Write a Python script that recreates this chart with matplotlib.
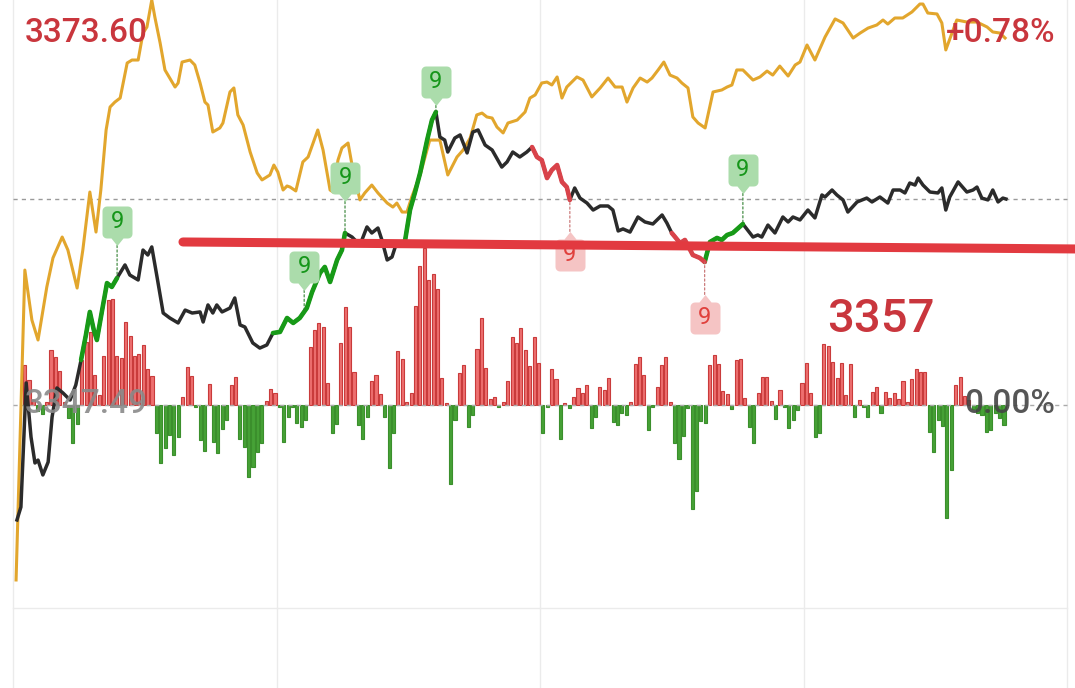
import numpy as np
import matplotlib
matplotlib.use("Agg")
import matplotlib.pyplot as plt
from matplotlib.path import Path
from matplotlib.transforms import offset_copy

plt.rcParams['font.family'] = ['Roboto', 'DejaVu Sans']

# ---------------- data ----------------
prev_close = 3347.49
top_price = 3373.60
pct_label = "+0.78%"
zero_label = "0.00%"
note_label = "3357"

# black line (index) : minute, price
black_t = [0.9, 1.8, 3.0, 4.1, 5.0, 5.7, 6.8, 8.0, 8.9, 10.0, 11.4, 13.0, 14.3, 15.5, 16.6, 17.5, 18.4, 19.1, 20.3, 21.4,
           22.5, 23.7, 25.5, 26.6, 28.5, 29.6, 30.7, 31.6, 32.8, 34.2, 35.7, 37.6, 39.2, 40.8, 42.6, 43.3, 44.4, 45.5, 46.4, 47.6,
           49.4, 50.5, 51.7, 52.8, 54.6, 56.2, 57.8, 59.2, 60.8, 62.4, 63.8, 65.3, 66.9, 68.1, 69.9, 71.0, 72.2, 73.8, 74.9, 75.6,
           77.2, 79.0, 80.6, 81.7, 83.1, 84.0, 85.2, 86.3, 87.4, 88.8, 89.3, 90.4, 91.5, 92.7, 94.3, 95.4, 96.3, 97.2, 98.3, 99.0,
           100.6, 101.8, 103.4, 104.7, 105.9, 107.5, 109.1, 111.3, 112.5, 113.8, 115.4, 117.0, 118.2, 119.3, 120.4, 121.6, 122.7, 123.9, 125.0, 126.1,
           126.8, 127.9, 129.1, 130.7, 132.1, 133.7, 135.5, 136.6, 137.8, 138.9, 140.5, 142.3, 143.9, 145.7, 147.8, 148.9, 150.0, 151.9, 153.0, 154.8,
           156.4, 157.5, 158.7, 160.3, 161.4, 162.6, 163.9, 166.2, 168.5, 169.6, 170.5, 171.9, 173.5, 175.3, 176.5, 177.6, 179.2, 181.0, 182.6, 184.2,
           184.9, 186.5, 187.6, 189.0, 190.1, 192.2, 194.4, 195.6, 197.4, 199.2, 200.4, 202.0, 203.1, 204.2, 205.4, 206.1, 207.2, 208.8, 210.6, 211.5,
           212.4, 213.3, 215.2, 217.2, 218.6, 219.5, 220.6, 222.0, 223.1, 224.3, 225.4, 226.1]
black_p = [3340.08, 3340.91, 3348.91, 3345.43, 3343.75, 3343.94, 3342.98, 3343.81, 3346.72, 3348.59, 3348.26, 3347.81, 3348.78, 3350.39, 3352.00, 3353.49, 3352.32, 3351.68, 3353.61, 3355.35,
           3355.10, 3355.68, 3356.52, 3355.87, 3355.55, 3357.48, 3357.16, 3357.68, 3355.74, 3353.42, 3353.10, 3352.78, 3353.61, 3353.42, 3353.49, 3352.84, 3353.94, 3353.42, 3353.94, 3353.49,
           3353.74, 3354.39, 3352.65, 3352.52, 3351.49, 3351.16, 3351.36, 3352.13, 3352.20, 3353.10, 3352.78, 3353.10, 3353.74, 3354.77, 3356.00, 3356.39, 3355.42, 3356.84, 3357.48, 3358.58,
           3358.32, 3357.80, 3358.97, 3358.58, 3358.90, 3358.13, 3356.84, 3357.03, 3358.00, 3358.00, 3358.13, 3360.06, 3361.16, 3362.45, 3364.57, 3365.86, 3366.38, 3364.77, 3364.57, 3363.80,
           3364.70, 3364.90, 3363.74, 3365.09, 3365.22, 3364.25, 3363.93, 3362.83, 3363.16, 3363.80, 3363.48, 3363.80, 3364.12, 3363.48, 3363.28, 3362.12, 3362.64, 3362.96, 3361.87, 3361.54,
           3360.71, 3361.48, 3360.83, 3360.51, 3360.06, 3360.32, 3360.32, 3360.06, 3358.71, 3358.84, 3358.64, 3359.61, 3359.29, 3359.16, 3359.74, 3359.22, 3358.58, 3357.93, 3358.13, 3357.16,
           3356.97, 3356.71, 3358.00, 3358.26, 3358.13, 3358.45, 3358.58, 3359.16, 3358.32, 3358.45, 3358.32, 3359.09, 3358.58, 3359.61, 3359.29, 3359.61, 3359.42, 3360.06, 3359.55, 3361.03,
           3360.90, 3361.35, 3361.03, 3360.71, 3359.93, 3360.58, 3360.83, 3360.58, 3360.90, 3360.51, 3361.35, 3361.35, 3361.16, 3361.80, 3361.67, 3362.12, 3361.67, 3361.22, 3361.16, 3361.48,
           3360.06, 3360.90, 3361.87, 3361.22, 3361.35, 3361.54, 3360.83, 3360.71, 3361.35, 3360.58, 3360.83, 3360.77]

# yellow line : minute, price-equivalent
yellow_t = [0.7, 2.7, 4.3, 5.7, 7.7, 9.1, 11.2, 12.5, 14.6, 15.9, 17.5, 18.9, 20.0, 21.2, 22.1, 23.2, 24.4, 26.0, 27.1, 28.5,
            29.6, 30.5, 31.6, 32.3, 33.5, 34.6, 35.7, 36.9, 37.6, 38.5, 40.3, 41.4, 42.6, 43.7, 44.4, 45.5, 47.1, 47.8, 49.4, 50.3,
            51.2, 52.4, 54.0, 55.6, 56.7, 58.5, 59.4, 60.3, 61.5, 62.4, 63.1, 64.4, 66.0, 67.2, 69.4, 70.6, 72.2, 72.9, 74.0, 74.9,
            76.3, 77.4, 79.0, 80.1, 81.7, 83.1, 85.2, 86.5, 87.4, 88.6, 89.7, 90.8, 92.7, 94.9, 97.2, 99.0, 101.1, 102.5, 104.1, 105.6,
            106.8, 107.9, 109.1, 110.2, 111.6, 112.7, 114.8, 116.6, 117.7, 118.9, 120.4, 121.6, 122.7, 123.9, 125.0, 126.1, 128.4, 129.8, 131.8, 133.7,
            135.5, 137.1, 138.7, 139.8, 141.2, 142.8, 144.4, 145.5, 146.9, 148.2, 149.6, 151.2, 152.3, 153.7, 154.8, 156.0, 157.6, 159.4, 161.4, 162.6,
            163.7, 164.8, 166.2, 168.5, 170.1, 171.7, 173.0, 174.6, 176.5, 178.1, 179.2, 180.8, 182.6, 184.9, 187.2, 189.0, 191.3, 192.9, 194.7, 196.7,
            198.1, 199.2, 200.8, 202.6, 204.7, 206.5, 207.2, 208.3, 210.4, 211.5, 212.4, 213.8, 214.9, 217.2, 219.5, 221.8, 223.1, 224.7, 225.9]
yellow_p = [3336.21, 3356.19, 3352.97, 3351.68, 3355.10, 3356.97, 3358.32, 3357.48, 3355.03, 3357.48, 3361.22, 3358.64, 3361.35, 3365.22, 3366.70, 3367.02, 3367.28, 3369.54, 3369.73, 3369.73,
            3371.47, 3371.86, 3373.60, 3372.50, 3370.83, 3369.09, 3368.57, 3367.99, 3368.25, 3369.60, 3369.73, 3369.41, 3368.25, 3367.02, 3366.83, 3365.09, 3365.35, 3365.67, 3367.67, 3367.93,
            3366.19, 3365.54, 3363.80, 3362.45, 3362.00, 3362.32, 3362.96, 3362.51, 3361.35, 3361.61, 3361.54, 3361.29, 3363.16, 3363.48, 3365.22, 3363.93, 3361.35, 3361.22, 3363.28, 3364.06,
            3364.38, 3362.64, 3360.71, 3361.16, 3361.67, 3361.16, 3360.51, 3360.25, 3360.51, 3359.93, 3359.93, 3360.90, 3362.32, 3364.57, 3364.57, 3362.32, 3363.48, 3363.93, 3364.70, 3366.19,
            3366.31, 3366.06, 3365.99, 3365.41, 3365.03, 3365.67, 3365.86, 3366.38, 3367.28, 3367.48, 3368.25, 3368.31, 3368.12, 3368.64, 3367.28, 3367.99, 3368.64, 3368.44, 3367.35, 3367.93,
            3368.57, 3367.99, 3367.99, 3367.02, 3367.93, 3368.57, 3368.31, 3368.57, 3369.09, 3369.60, 3368.76, 3368.57, 3368.25, 3367.93, 3366.06, 3365.67, 3365.35, 3367.67, 3367.80, 3367.99,
            3368.12, 3369.09, 3369.09, 3368.44, 3368.64, 3369.02, 3368.76, 3369.34, 3368.70, 3369.41, 3369.60, 3370.70, 3369.73, 3371.21, 3372.38, 3372.12, 3371.15, 3371.47, 3371.79, 3371.99,
            3372.31, 3372.05, 3372.44, 3372.44, 3372.83, 3373.34, 3373.34, 3372.76, 3372.70, 3372.12, 3370.38, 3371.47, 3372.31, 3372.18, 3372.18, 3371.86, 3371.54, 3371.47, 3371.15]

# highlighted segments of the black line (minute ranges)
green_segments = [(15.5, 23.7), (59.2, 75.6), (89.3, 96.3), (157.5, 166.2)]
red_segments = [(118.2, 126.8), (150.0, 157.5)]

# "9" signal markers (minute)
nine_green_t = [23.7, 66.3, 75.6, 96.3, 166.2]
nine_red_t = [126.8, 157.5]

# red / green columns (one per minute, arbitrary strength units)
bar_values = [0, 0, 40, 25, 5, -6, -9, 3, 55, 48, 34, 3, -13, -38, -19, 45, 63, 73, 30, 10,
              49, 105, 106, 49, 47, 83, 69, 49, 51, 60, 36, 29, -28, -58, -43, -30, -50, -32, 8, 38,
              29, -2, -35, -46, 21, -37, -48, -24, -15, 20, 28, -34, -42, -72, -62, -47, -38, 4, 16, 12,
              -2, -37, -12, -2, -18, -22, -15, 58, 75, 82, 78, 22, -28, -19, 62, 98, 78, 33, -20, -34,
              -12, 24, 30, 11, -12, -63, -28, 54, 46, 3, 12, 99, 139, 157, 125, 131, 116, 27, 2, -79,
              -15, 32, 40, -22, -10, 56, 87, 37, 6, 8, -2, 3, 24, 68, 62, 77, 55, 39, 68, 42,
              -28, -2, 36, 26, -34, 2, -3, 8, 17, 12, 20, -23, -12, 18, 15, 27, -17, -20, -8, -10,
              3, 41, 48, 30, -25, -2, 18, 40, 48, 3, -38, -54, -31, -3, -104, -86, -16, -18, 40, 50,
              41, 14, 11, -4, 45, 46, 7, -22, -38, 12, 28, 28, 4, -14, 15, -2, -23, -15, -5, 22,
              42, 12, -32, -28, 61, 59, 43, 27, 42, 10, 41, -12, 5, -2, -12, 13, 18, -8, 13, 7,
              12, 6, 24, 3, 26, 36, 33, 33, -27, -47, -15, -21, -113, -65, 20, 28, 9, 5, -4, -8,
              -10, -27, -25, -8, -13, -20]
bar_minutes = np.arange(1, len(bar_values) + 1)

# hand-drawn support line (minute, price)
support_t = [38.7, 241.8]
support_p = [3358.00, 3357.55]

# ---------------- figure ----------------
W, H, DPI = 1075, 688, 100
fig = plt.figure(figsize=(W / DPI, H / DPI), dpi=DPI)
fig.patch.set_facecolor('white')

ax2 = fig.add_axes([0, 0, 1, 1])          # columns
ax = fig.add_axes([0, 0, 1, 1], sharex=ax2)  # price lines
ax.set_zorder(ax2.get_zorder() + 1)
ax.patch.set_visible(False)

px_per_min = 1054 / 240.0
ax.set_xlim(-13 / px_per_min, (W - 13) / px_per_min)
price_per_px = (top_price - prev_close) / 405.0
ax.set_ylim(top_price - H * price_per_px, top_price)
ax2.set_ylim(-(H - 405), 405)
for a in (ax, ax2):
    a.axis('off')

# grid
for t in [0, 60, 120, 180, 240]:
    ax2.axvline(t, color='#ebebeb', lw=1.0, zorder=0)
ax.axhline(prev_close - 203 * price_per_px, xmin=13 / W, xmax=1067 / W, color='#ebebeb', lw=1.0, zorder=0)
ax.plot([0, 240], [prev_close, prev_close], color='#aaaaaa', lw=1.0, ls=(0, (3, 3)), zorder=1)
ax.plot([0, 240], [black_p[-1], black_p[-1]], color='#9a9a9a', lw=1.0, ls=(0, (3, 3)), zorder=1)

# columns
bv = np.array(bar_values, dtype=float)
bx = bar_minutes - 0.35
up = bv > 0
dn = bv < 0
ax2.bar(bx[up], bv[up], width=0.7, color='#ee6f6f', edgecolor='#c93b3b', linewidth=0.8, zorder=2)
ax2.bar(bx[dn], bv[dn], width=0.7, color='#46a236', edgecolor='#3b8f2c', linewidth=0.8, zorder=2)

# lines
bt = np.array(black_t)
bp = np.array(black_p)
ax.plot(yellow_t, yellow_p, color='#e2a62d', lw=2.2, zorder=3, solid_joinstyle='round')
ax.plot(bt, bp, color='#2b2b2b', lw=2.5, zorder=4, solid_joinstyle='round')
for (s, e) in green_segments:
    m = (bt >= s - 1e-6) & (bt <= e + 1e-6)
    ax.plot(bt[m], bp[m], color='#179a17', lw=3.3, zorder=5, solid_capstyle='round', solid_joinstyle='round')
for (s, e) in red_segments:
    m = (bt >= s - 1e-6) & (bt <= e + 1e-6)
    ax.plot(bt[m], bp[m], color='#d9434a', lw=3.3, zorder=5, solid_capstyle='round', solid_joinstyle='round')


# pin marker paths (rounded box with pointer)
def pin_path(pointer_down=True):
    hw, hh, r, tip, pw = 15.0, 16.0, 4.5, 23.5, 6.0
    verts = []
    def arc(cx, cy, a0, a1):
        for a in np.linspace(a0, a1, 6):
            verts.append((cx + r * np.cos(a), cy + r * np.sin(a)))
    verts.append((-pw, -hh))
    arc(-hw + r, -hh + r, -np.pi / 2, -np.pi)
    arc(-hw + r, hh - r, np.pi, np.pi / 2)
    arc(hw - r, hh - r, np.pi / 2, 0)
    arc(hw - r, -hh + r, 0, -np.pi / 2)
    verts.append((pw, -hh))
    verts.append((0, -tip))
    verts.append((-pw, -hh))
    v = np.array(verts)
    if not pointer_down:
        v[:, 1] = -v[:, 1]
    codes = [Path.MOVETO] + [Path.LINETO] * (len(v) - 2) + [Path.CLOSEPOLY]
    return Path(v, codes)


pin_size_pt = 47 * 72 / DPI
green_offsets = [56, 45, 55, 30, 54]
red_offsets = [-55, -56]

for t, off in zip(nine_green_t, green_offsets):
    p = float(np.interp(t, bt, bp))
    tr = offset_copy(ax.transData, fig=fig, x=0, y=off, units='dots')
    ax.annotate('', xy=(t, p), xytext=(0, off - 23.5), textcoords='offset pixels',
                arrowprops=dict(arrowstyle='-', color='#2f7f2f', lw=0.8, ls=(0, (2, 2)),
                                shrinkA=0, shrinkB=0), zorder=6)
    ax.plot([t], [p], transform=tr, marker=pin_path(True), ms=pin_size_pt,
            mfc='#abdcab', mec='none', zorder=7)
    ax.text(t, p, '9', transform=tr, ha='center', va='center', fontsize=17,
            color='#16961a', zorder=8)

for t, off in zip(nine_red_t, red_offsets):
    p = float(np.interp(t, bt, bp))
    tr = offset_copy(ax.transData, fig=fig, x=0, y=off, units='dots')
    ax.annotate('', xy=(t, p), xytext=(0, off + 23.5), textcoords='offset pixels',
                arrowprops=dict(arrowstyle='-', color='#c46a6a', lw=0.8, ls=(0, (2, 2)),
                                shrinkA=0, shrinkB=0), zorder=6)
    ax.plot([t], [p], transform=tr, marker=pin_path(False), ms=pin_size_pt,
            mfc='#f5c4c4', mec='none', zorder=7)
    ax.text(t, p, '9', transform=tr, ha='center', va='center', fontsize=17,
            color='#e0403c', zorder=8)

# hand-drawn support line
ax.plot(support_t, support_p, color='#e23a40', lw=6.5, solid_capstyle='round', zorder=9)

# labels
ax.text(25 / W, 1 - 42 / H, f"{top_price:.2f}", transform=ax.transAxes, ha='left', va='baseline',
        fontsize=24, fontweight='medium', color='#c9363d', zorder=10)
ax.text(1055 / W, 1 - 42 / H, pct_label, transform=ax.transAxes, ha='right', va='baseline',
        fontsize=24, fontweight='medium', color='#c9363d', zorder=10)
ax.text(25 / W, 1 - 413 / H, f"{prev_close:.2f}", transform=ax.transAxes, ha='left', va='baseline',
        fontsize=24, fontweight='medium', color='#8a8a8a', alpha=0.9, zorder=10)
ax.text(1055 / W, 1 - 413 / H, zero_label, transform=ax.transAxes, ha='right', va='baseline',
        fontsize=24, fontweight='medium', color='#444444', alpha=0.9, zorder=10)
ax.text(827 / W, 1 - 332 / H, note_label, transform=ax.transAxes, ha='left', va='baseline',
        fontsize=34, fontweight='medium', color='#c9363d', zorder=10)

fig.savefig('out.png', dpi=DPI, facecolor='white')
